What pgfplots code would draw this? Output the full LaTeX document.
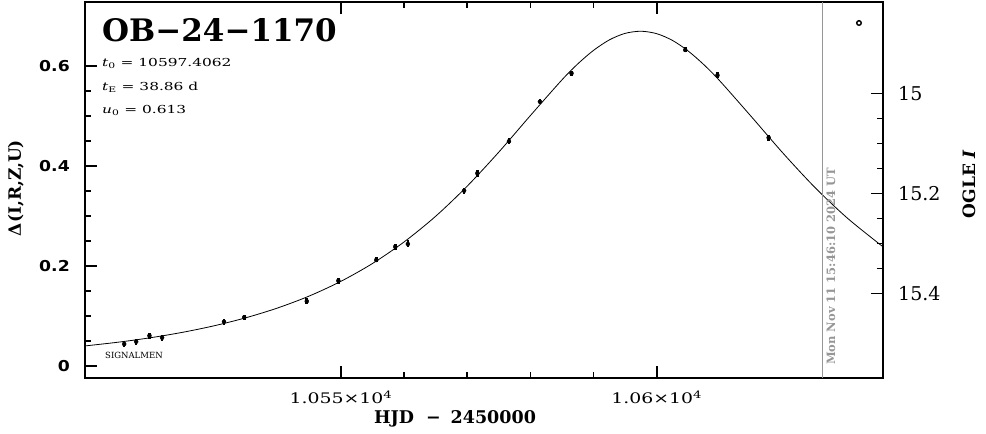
\documentclass[border=0pt]{standalone}
\usepackage{fontspec}
\setmainfont{DejaVu Serif}
\newfontfamily\sansb{DejaVu Sans}[FakeStretch=1.15]
\newfontfamily\widef{DejaVu Serif}[FakeStretch=1.3]
\newfontfamily\parf{DejaVu Serif}[FakeStretch=1.4]
\usepackage{pgfplots}
\pgfplotsset{compat=1.18}
\definecolor{stampgray}{RGB}{150,150,150}

\begin{document}
\begin{tikzpicture}
\useasboundingbox (-85bp,-56bp) rectangle (901bp,378bp);

% left axis: Delta magnitude
\begin{axis}[
    at={(0,0)}, anchor=south west,
    scale only axis, width=798bp, height=376bp,
    xmin=10509.5, xmax=10635.8,
    ymin=-0.024, ymax=0.728,
    scaled x ticks=false, scaled y ticks=false,
    axis line style={line width=1.6bp},
    every tick/.style={black, line width=1.6bp},
    major tick length=12bp, minor tick length=6bp,
    xtick={10550,10600}, minor x tick num=4,
    xticklabels={1.055×10\textsuperscript{4}, 1.06×10\textsuperscript{4}},
    xticklabel style={font=\widef\fontsize{14.5bp}{15bp}\selectfont, inner sep=0, anchor=north, yshift=-13bp},
    ytick={0,0.2,0.4,0.6}, minor y tick num=3, ytick pos=left,
    yticklabels={0,0.2,0.4,0.6},
    yticklabel style={font=\sansb\bfseries\fontsize{15bp}{15bp}\selectfont, inner sep=0, anchor=east, xshift=-15bp},
]

% Paczynski fit
\addplot[black, line width=0.8bp, smooth] coordinates {
    (10509.5,0.0401) (10515,0.0480) (10520,0.0568)
    (10525,0.0675) (10530,0.0806) (10535,0.0966) (10540,0.1161)
    (10545,0.1400) (10550,0.1693) (10555,0.2050) (10560,0.2481)
    (10565,0.2995) (10570,0.3598) (10575,0.4279) (10580,0.5010)
    (10585,0.5724) (10587.5,0.6043) (10590,0.6314) (10592.5,0.6523)
    (10595,0.6653) (10597.5,0.6695) (10600,0.6646) (10602.5,0.6510)
    (10605,0.6296) (10607.5,0.6020) (10610,0.5698) (10615,0.4982)
    (10620,0.4253) (10625,0.3574) (10630,0.2975) (10635,0.2463)
    (10635.8,0.2389)
};

% photometry with error bars
\addplot[only marks, mark=none,
    error bars/.cd, y dir=both, y explicit, error mark=none,
    error bar style={solid, black, line width=2.6bp}]
    table[x=t, y=d, y error=e] {
    t        d       e
    10515.7  0.0440  0.006
    10517.6  0.0486  0.006
    10519.7  0.0606  0.006
    10521.7  0.0566  0.006
    10531.5  0.0886  0.006
    10534.7  0.0974  0.005
    10544.6  0.1294  0.006
    10549.6  0.1706  0.006
    10555.6  0.2120  0.005
    10558.6  0.2386  0.006
    10560.6  0.2440  0.007
    10569.5  0.3506  0.006
    10571.6  0.3854  0.007
    10576.6  0.4494  0.006
    10581.5  0.5286  0.005
    10586.5  0.5854  0.005
    10604.5  0.6320  0.005
    10609.6  0.5814  0.006
    10617.7  0.4566  0.006
};

% current time marker
\addplot[stampgray, line width=1bp] coordinates {(10626.3,-0.024) (10626.3,0.728)};

% open circle, top right
\addplot[only marks, mark=o, mark size=2.3bp, mark options={line width=1.4bp, black}] coordinates {(10632.0,0.686)};
\end{axis}

% right axis: OGLE I magnitude
\begin{axis}[
    at={(0,0)}, anchor=south west,
    scale only axis, width=798bp, height=376bp,
    xmin=10509.5, xmax=10635.8,
    hide x axis, axis y line*=right,
    ymin=14.817, ymax=15.569, y dir=reverse,
    axis line style={line width=1.6bp},
    every tick/.style={black, line width=1.6bp},
    major tick length=12bp, minor tick length=6bp,
    ytick={15,15.2,15.4}, minor y tick num=3,
    yticklabels={15,15.2,15.4},
    yticklabel style={font=\fontsize{19bp}{19bp}\selectfont, inner sep=0, anchor=west, xshift=15bp},
]
\end{axis}

\node[anchor=base west, inner sep=0, font=\bfseries\fontsize{31bp}{31bp}\selectfont] at (17bp,336bp) {OB−24−1170};
\node[anchor=base west, inner sep=0, font=\parf\fontsize{11bp}{11bp}\selectfont] at (17bp,311bp) {\textit{t}\textsubscript{0} = 10597.4062};
\node[anchor=base west, inner sep=0, font=\parf\fontsize{11bp}{11bp}\selectfont] at (17bp,287.3bp) {\textit{t}\textsubscript{E} = 38.86 d};
\node[anchor=base west, inner sep=0, font=\parf\fontsize{11bp}{11bp}\selectfont] at (17bp,264bp) {\textit{u}\textsubscript{0} = 0.613};
\node[anchor=base west, inner sep=0, font=\fontsize{8.5bp}{8.5bp}\selectfont] at (20bp,20bp) {SIGNALMEN};
\node[rotate=90, anchor=base west, inner sep=0, text=stampgray, font=\bfseries\fontsize{11.5bp}{11.5bp}\selectfont] at (750bp,13bp) {Mon Nov 11 15:46:10 2024 UT};

\node[rotate=90, anchor=base, inner sep=0, font=\bfseries\fontsize{17bp}{17bp}\selectfont] at (-64bp,190bp) {Δ(I,R,Z,U)};
\node[rotate=90, anchor=base, inner sep=0, font=\bfseries\fontsize{17bp}{17bp}\selectfont] at (890bp,194bp) {OGLE \textit{I}};
\node[anchor=base, inner sep=0, font=\bfseries\fontsize{17.5bp}{17.5bp}\selectfont] at (370bp,-45bp) {HJD\hspace{12bp}−\hspace{10bp}2450000};
\end{tikzpicture}
\end{document}
